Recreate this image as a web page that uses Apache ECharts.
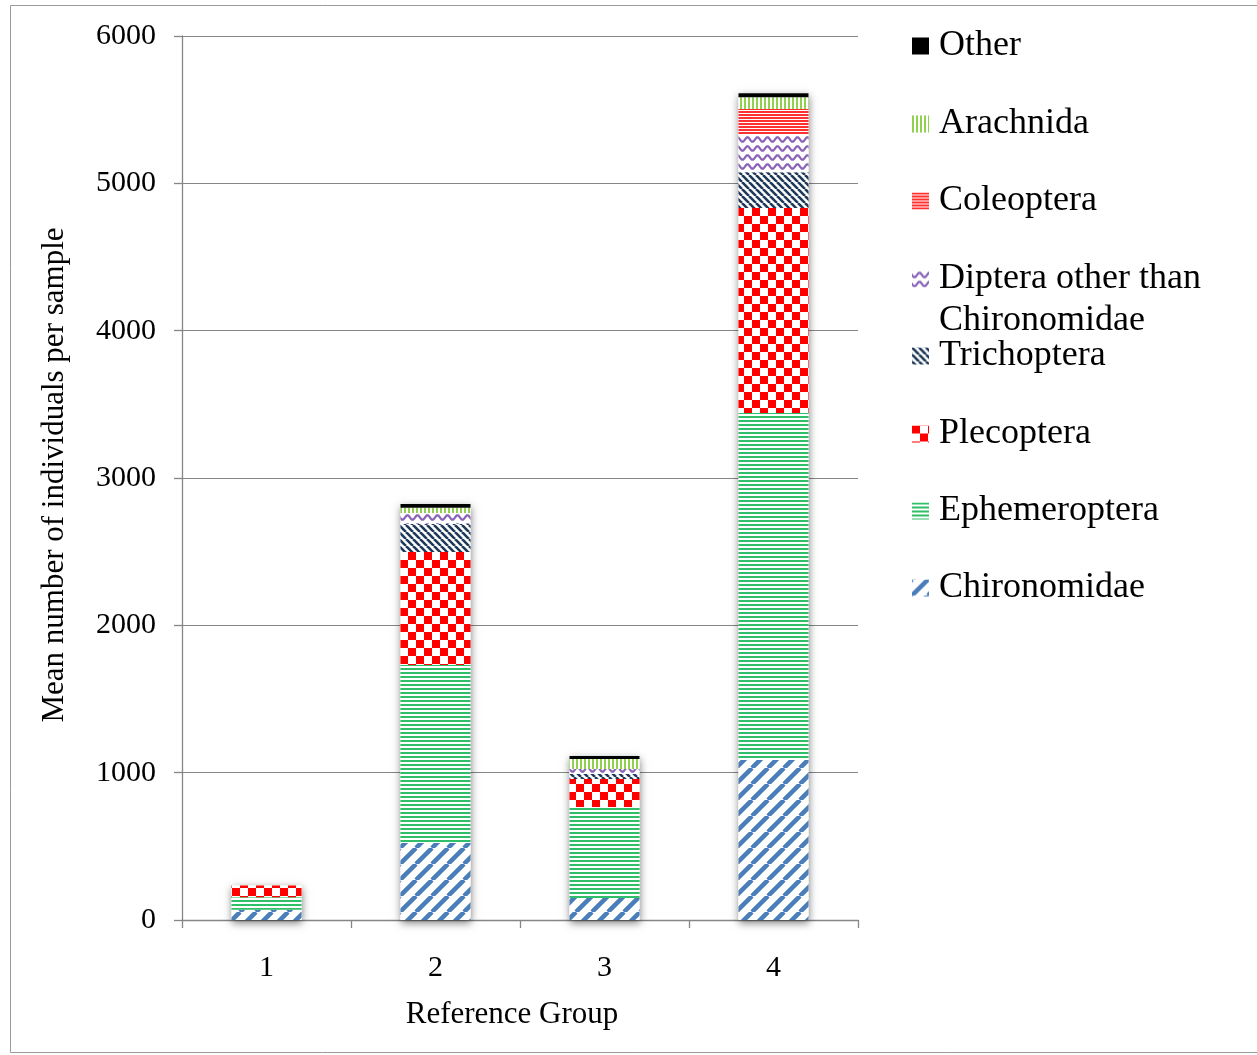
<!DOCTYPE html>
<html>
<head>
<meta charset="utf-8">
<script src="https://cdn.jsdelivr.net/npm/echarts@6/dist/echarts.min.js"></script>
<style>
html,body{margin:0;padding:0;background:#fff;}
#chart{width:1257px;height:1055px;}
</style>
</head>
<body>
<div id="chart"></div>
<script>
// ---- data ----
const categories = ['1', '2', '3', '4'];
const seriesNames = ['Chironomidae', 'Ephemeroptera', 'Plecoptera', 'Trichoptera',
  'Diptera other than Chironomidae', 'Coleoptera', 'Arachnida', 'Other'];
const chironomidae = [70, 523, 149, 1086];
const ephemeroptera = [85, 1208, 618, 2355];
const plecoptera = [80, 767, 190, 1391];
const trichoptera = [0, 190, 34, 244];
const diptera = [0, 75, 34, 258];
const coleoptera = [0, 0, 0, 170];
const arachnida = [0, 35, 68, 81];
const other = [0, 26, 20, 27];
const yMin = 0, yMax = 6000, yInterval = 1000;

const values = [chironomidae, ephemeroptera, plecoptera, trichoptera, diptera, coleoptera, arachnida, other];
const totals = categories.map((c, i) => values.reduce((s, arr) => s + arr[i], 0));

// ---- patterns ----
function tile(w, h) {
  const c = document.createElement('canvas');
  c.width = w; c.height = h;
  const g = c.getContext('2d');
  g.fillStyle = '#ffffff';
  g.fillRect(0, 0, w, h);
  return [c, g];
}
function diag(size, width, color, dir) {
  const [c, g] = tile(size, size);
  g.strokeStyle = color; g.lineWidth = width; g.beginPath();
  for (let k = -1; k <= 1; k++) {
    if (dir === '/') { g.moveTo(k * size, size); g.lineTo(k * size + size, 0); }
    else { g.moveTo(k * size, 0); g.lineTo(k * size + size, size); }
  }
  g.stroke();
  return c;
}
function hlines(h, on, color) {
  const [c, g] = tile(4, h);
  g.fillStyle = color; g.fillRect(0, 0, 4, on);
  return c;
}
function vlines(w, on, color) {
  const [c, g] = tile(w, 4);
  g.fillStyle = color; g.fillRect(0, 0, on, 4);
  return c;
}
function checker(s, color) {
  const [c, g] = tile(2 * s, 2 * s);
  g.fillStyle = color; g.fillRect(0, 0, s, s); g.fillRect(s, s, s, s);
  return c;
}
function wave(w, h, amp, color) {
  const [c, g] = tile(w, h);
  g.strokeStyle = color; g.lineWidth = 2.2; g.beginPath();
  for (let x = -1; x <= w + 1; x += 0.5) {
    const y = h / 2 + amp * Math.sin(2 * Math.PI * x / w);
    if (x === -1) g.moveTo(x, y); else g.lineTo(x, y);
  }
  g.stroke();
  return c;
}
function pat(canvas) { return { image: canvas, repeat: 'repeat' }; }

const fills = [
  pat(diag(16, 4.5, '#4a7ebb', '/')),
  pat(hlines(4, 2, '#2fbf68')),
  pat(checker(8, '#ff0000')),
  pat(diag(7, 2.6, '#1f3a5a', '\\')),
  pat(wave(10, 9, 2.2, '#8a63b8')),
  pat(hlines(3, 2, '#ff3030')),
  pat(vlines(4, 2, '#92d050')),
  '#000000'
];

const FONT = 'Liberation Serif';
const legendCenters = [588, 511, 434, 356, 279, 201, 124, 46];

const series = [{
  name: '__shadow',
  type: 'bar',
  data: totals,
  barWidth: 70,
  barGap: '-100%',
  silent: true,
  z: 1,
  itemStyle: {
    color: '#ffffff',
    shadowBlur: 8,
    shadowColor: 'rgba(0,0,0,0.5)',
    shadowOffsetY: 3
  }
}];
seriesNames.forEach((n, i) => {
  series.push({
    name: n,
    type: 'bar',
    stack: 'total',
    data: values[i],
    barWidth: 70,
    barGap: '-100%',
    z: 2,
    itemStyle: { color: fills[i] }
  });
});

const legends = seriesNames.map((n, i) => ({
  data: [n],
  left: 912,
  top: legendCenters[i] - 20,
  padding: 0,
  itemWidth: 17,
  itemHeight: 17,
  icon: 'rect',
  selectedMode: false,
  formatter: n.startsWith('Diptera') ? () => 'Diptera other than' : undefined,
  textStyle: { fontFamily: FONT, fontSize: 36, color: '#000', lineHeight: 40, padding: [0, 0, 0, 5] }
}));

const chart = echarts.init(document.getElementById('chart'), null, { renderer: 'canvas' });
chart.setOption({
  animation: false,
  backgroundColor: '#ffffff',
  grid: { left: 182, right: 399, top: 36, bottom: 135, containLabel: false },
  legend: legends,
  graphic: [
    { type: 'rect', shape: { x: 10.5, y: 5.5, width: 1270, height: 1047 }, style: { fill: 'none', stroke: '#9a9a9a', lineWidth: 1 }, silent: true },
    { type: 'text', left: 939, top: 301, style: { text: 'Chironomidae', fontFamily: FONT, fontSize: 36, fill: '#000', lineHeight: 40 } }
  ],
  xAxis: {
    type: 'category',
    data: categories,
    name: 'Reference Group',
    nameLocation: 'middle',
    nameGap: 79,
    nameTextStyle: { fontFamily: FONT, fontSize: 31, color: '#000', padding: [0, 16, 0, 0] },
    axisLine: { lineStyle: { color: '#868686', width: 1.3 } },
    axisTick: { show: true, length: 8, lineStyle: { color: '#868686', width: 1.3 } },
    axisLabel: { fontFamily: FONT, fontSize: 30, color: '#000', margin: 33 }
  },
  yAxis: {
    type: 'value',
    min: yMin, max: yMax, interval: yInterval,
    name: 'Mean number of individuals per sample',
    nameLocation: 'middle',
    nameGap: 112,
    nameTextStyle: { fontFamily: FONT, fontSize: 31, color: '#000', padding: [0, 0, 0, 6] },
    axisLine: { show: true, lineStyle: { color: '#868686', width: 1.3 } },
    axisTick: { show: true, length: 8, lineStyle: { color: '#868686', width: 1.3 } },
    axisLabel: { fontFamily: FONT, fontSize: 30, color: '#000', margin: 26, formatter: v => String(v) },
    splitLine: { show: true, lineStyle: { color: '#868686', width: 1 } }
  },
  series: series
});
</script>
</body>
</html>
